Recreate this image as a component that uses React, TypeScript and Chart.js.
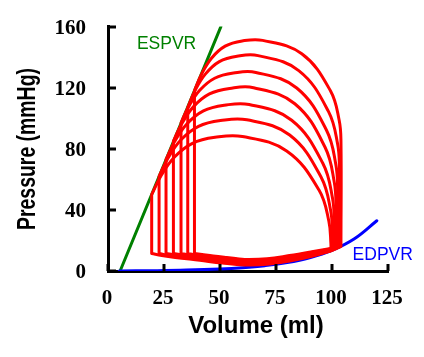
import React, { useEffect, useRef } from 'react';
import { Chart, registerables } from 'chart.js';

Chart.register(...registerables);

// ---- data (volume ml, pressure mmHg) ----
const xTicks = [0, 25, 50, 75, 100, 125];
const yTicks = [0, 40, 80, 120, 160];

const xTitle = 'Volume (ml)';
const yTitle = 'Pressure (mmHg)';

const loop1: number[][] = [[19.5,50],[19.5,11.5],[19.5,11.5],[24,10.2],[30,8.9],[41,7],[51,5.2],[61,4],[71,4.4],[81,6.5],[91,9.6],[99.5,13.2],[99.5,13.2],[99.5,18],[98.6,32.6],[94.2,53],[79.75,78.6],[60,88],[47.85,87.5],[37.7,83.6],[29.6,74.5],[23.55,62],[19.5,50]];
const loop2: number[][] = [[22.8,62],[22.8,11.5],[22.8,11.5],[27,10.3],[33,9],[43,7.3],[52,5.8],[61,4.6],[71,5],[81,7.1],[91,10.1],[100.2,13.6],[100.2,13.6],[100.2,24],[99.4,39.6],[95.1,61.5],[81.1,89],[62,99],[50.2,98.5],[40.4,94.7],[32.6,85.9],[26.7,73.7],[22.8,62]];
const loop3: number[][] = [[25.9,73],[25.9,11.5],[25.9,11.5],[30,10.4],[36,9.1],[45,7.6],[53,6.3],[61,5.2],[71,5.6],[81,7.7],[91,10.6],[101,14.1],[101,14.1],[101,32],[100.2,48],[95.9,70.5],[82,98.7],[63,109],[51.9,108.5],[42.6,104.8],[35.2,96.2],[29.6,84.4],[25.9,73]];
const loop4: number[][] = [[29.2,85],[29.2,11.5],[29.2,11.5],[33,10.5],[39,9.2],[47,7.9],[54,6.8],[61,5.8],[71,6.2],[81,8.3],[91,11.1],[101.8,14.6],[101.8,14.6],[101.8,42],[101,58.2],[96.9,81],[83.4,109.5],[65,120],[54.3,119.5],[45.3,115.9],[38.2,107.6],[32.8,96.1],[29.2,85]];
const loop5: number[][] = [[32.6,97],[32.6,11.5],[32.6,11.5],[36,10.6],[42,9.4],[49,8.2],[55,7.3],[61,6.4],[71,6.8],[81,8.9],[91,11.6],[102.5,15],[102.5,15],[102.5,54],[101.7,69.8],[97.6,92],[84.25,119.8],[66,130],[56,129.6],[47.6,126.2],[40.95,118.3],[35.9,107.4],[32.6,97]];
const loop6: number[][] = [[35.6,107],[35.6,11.5],[35.6,11.5],[39,10.7],[45,9.6],[51,8.5],[56,7.8],[61,7],[71,7.4],[81,9.5],[91,12.1],[103.3,15.6],[103.3,15.6],[103.3,68],[102.5,83.2],[98.4,104.5],[85.15,131.2],[67,141],[57.6,140.6],[49.7,137.1],[43.45,128.9],[38.7,117.7],[35.6,107]];
const loop7: number[][] = [[38.6,118],[38.6,11.5],[38.6,11.5],[42,10.8],[47,9.8],[53,8.8],[57,8.2],[61,7.6],[71,8],[81,10.1],[91,12.6],[104,16.1],[104,16.1],[104,85],[103.2,98.7],[99.3,118],[86.5,142.2],[69,151],[59.9,150.6],[52.3,147.2],[46.2,139.3],[41.6,128.4],[38.6,118]];

const espvr: number[][] = [[5.4, 0], [50.4, 160]];
const edpvr: number[][] = [[5,0],[20,0.2],[35,0.58],[50,1.31],[60,2.15],[70,3.46],[80,5.48],[90,8.63],[100,13.5],[110,21.1],[120,32.9]];

const espvrLabel = { text: 'ESPVR', x: 12.9, y: 145.2 };
const edpvrLabel = { text: 'EDPVR', x: 109.2, y: 7.1 };

const RED = '#ff0000';
const GREEN = '#008000';
const BLUE = '#0000ff';

const overlay = {
  id: 'overlay',
  afterDraw(chart: any) {
    const ctx = chart.ctx;
    const xs = chart.scales.x;
    const ys = chart.scales.y;
    const area = chart.chartArea;
    ctx.save();
    ctx.strokeStyle = '#000';
    ctx.lineWidth = 3;
    ctx.beginPath();
    xTicks.forEach((v) => {
      const px = Math.round(xs.getPixelForValue(v));
      ctx.moveTo(px, area.bottom);
      ctx.lineTo(px, area.bottom - 7);
    });
    yTicks.forEach((v) => {
      const py = Math.round(ys.getPixelForValue(v));
      ctx.moveTo(area.left, py);
      ctx.lineTo(area.left + 8, py);
    });
    ctx.stroke();

    // axis titles
    ctx.fillStyle = '#000';
    ctx.font = 'bold 24px "Liberation Sans", Arial, sans-serif';
    ctx.textAlign = 'center';
    ctx.textBaseline = 'alphabetic';
    ctx.fillText(xTitle, 256, 333);

    ctx.save();
    ctx.font = 'bold 25px "Liberation Sans", Arial, sans-serif';
    const w = ctx.measureText(yTitle).width;
    ctx.translate(35, 149);
    ctx.rotate(-Math.PI / 2);
    ctx.scale(162 / w, 1);
    ctx.fillText(yTitle, 0, 0);
    ctx.restore();

    // curve labels
    ctx.font = '17.5px "Liberation Sans", Arial, sans-serif';
    ctx.textAlign = 'left';
    ctx.fillStyle = GREEN;
    ctx.fillText(espvrLabel.text, xs.getPixelForValue(espvrLabel.x), ys.getPixelForValue(espvrLabel.y));
    ctx.fillStyle = BLUE;
    ctx.fillText(edpvrLabel.text, xs.getPixelForValue(edpvrLabel.x), ys.getPixelForValue(edpvrLabel.y));
    ctx.restore();
  },
};

export default function App() {
  const ref = useRef<HTMLCanvasElement | null>(null);
  useEffect(() => {
    if (!ref.current) return;
    const loops = [loop1, loop2, loop3, loop4, loop5, loop6, loop7];
    const lineBase = {
      showLine: true,
      pointRadius: 0,
      pointHoverRadius: 0,
      borderWidth: 3,
      borderCapStyle: 'round',
      borderJoinStyle: 'round',
      fill: false,
    };
    const datasets: any[] = loops.map((l, i) => ({
      ...lineBase,
      label: 'loop' + (i + 1),
      data: l,
      borderColor: RED,
      tension: 0.4,
    }));
    datasets.push({ ...lineBase, label: 'EDPVR', data: edpvr, borderColor: BLUE, tension: 0.4 });
    datasets.push({ ...lineBase, label: 'ESPVR', data: espvr, borderColor: GREEN, tension: 0 });

    const tickFont = { family: '"Liberation Serif", "Times New Roman", serif', weight: 'bold' as const, size: 21 };
    const chart = new Chart(ref.current, {
      type: 'scatter',
      data: { datasets },
      options: {
        animation: false,
        responsive: false,
        devicePixelRatio: 1,
        layout: { padding: { left: 0, top: 22, right: 36, bottom: 0 } },
        plugins: { legend: { display: false }, tooltip: { enabled: false } },
        scales: {
          x: {
            type: 'linear',
            min: 0,
            max: 125,
            afterFit: (s: any) => { s.height = 86; },
            ticks: { stepSize: 25, font: tickFont, color: '#000', padding: 7, labelOffset: -1, maxRotation: 0 },
            grid: { display: false },
            border: { display: true, width: 3, color: '#000' },
          },
          y: {
            type: 'linear',
            min: 0,
            max: 160,
            afterFit: (s: any) => { s.width = 108; },
            ticks: { stepSize: 40, font: tickFont, color: '#000', padding: 14, labelOffset: 2 },
            grid: { display: false },
            border: { display: true, width: 3, color: '#000' },
          },
        },
      } as any,
      plugins: [overlay],
    });
    return () => chart.destroy();
  }, []);
  return (
    <canvas
      ref={ref}
      width={424}
      height={357}
      style={{ position: 'absolute', left: 0, top: 0, display: 'block' }}
    />
  );
}
